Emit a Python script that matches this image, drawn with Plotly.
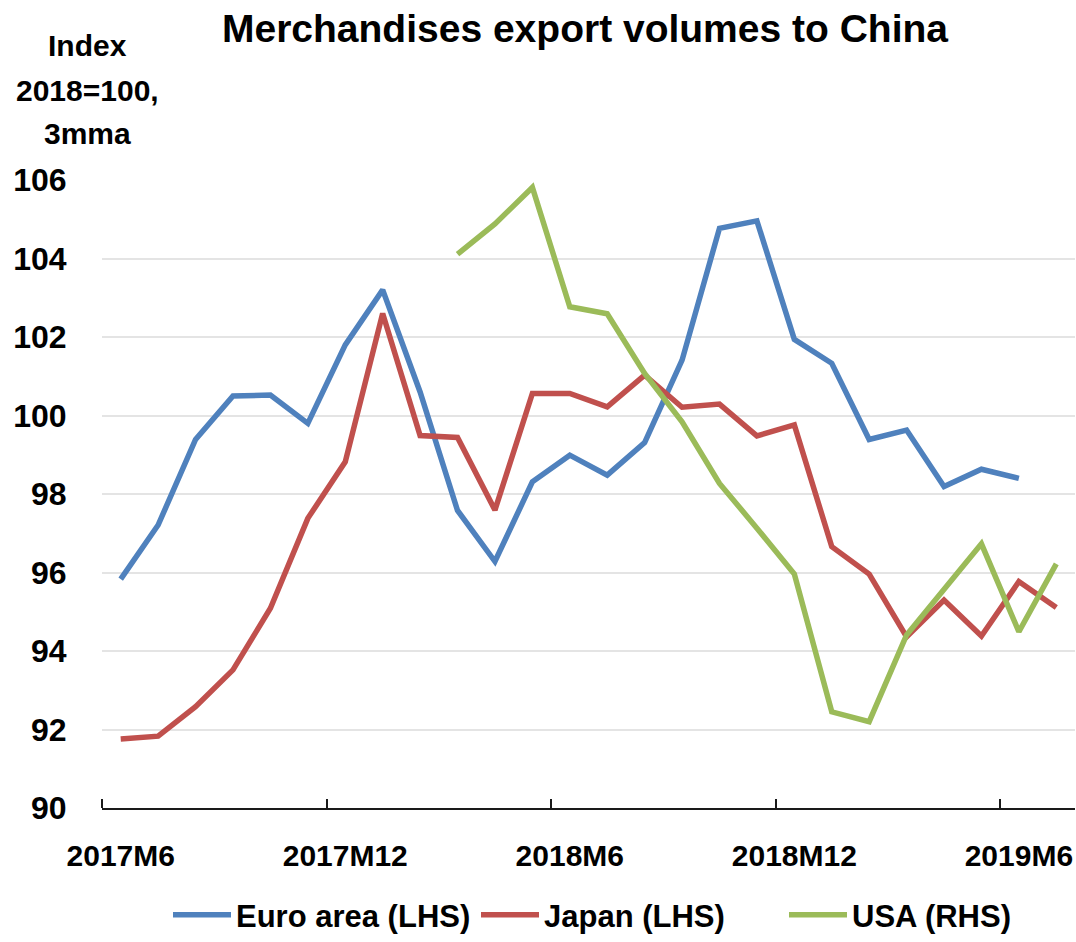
import plotly.graph_objects as go

# Monthly categories, 2017M6 .. 2019M7
months = [
    "2017M6", "2017M7", "2017M8", "2017M9", "2017M10", "2017M11",
    "2017M12", "2018M1", "2018M2", "2018M3", "2018M4", "2018M5",
    "2018M6", "2018M7", "2018M8", "2018M9", "2018M10", "2018M11",
    "2018M12", "2019M1", "2019M2", "2019M3", "2019M4", "2019M5",
    "2019M6", "2019M7",
]
tick_labels = ["2017M6", "2017M12", "2018M6", "2018M12", "2019M6"]

# Index 2018=100, 3-month moving average
euro_area = [
    95.83, 97.21, 99.39, 100.50, 100.52, 99.80, 101.80, 103.20, 100.60, 97.58,
    96.28, 98.31, 98.99, 98.48, 99.31, 101.41, 104.77, 104.96, 101.94, 101.33,
    99.39, 99.63, 98.19, 98.63, 98.40, None,
]
japan = [
    91.76, 91.83, 92.58, 93.52, 95.09, 97.38, 98.82, 102.60, 99.49, 99.44,
    97.59, 100.56, 100.56, 100.22, 101.03, 100.21, 100.29, 99.48, 99.76, 96.66,
    95.96, 94.36, 95.30, 94.38, 95.77, 95.11,
]
usa = [
    None, None, None, None, None, None, None, None, None, 104.11,
    104.88, 105.81, 102.77, 102.59, 101.07, 99.84, 98.27, 97.13, 95.96, 92.45,
    92.20, 94.41, 95.58, 96.73, 94.49, 96.22,
]
axis_note = ["Index", "2018=100,", "3mma"]

x_idx = list(range(len(months)))
label_idx = [months.index(m) for m in tick_labels]
boundary_idx = [i - 0.5 for i in label_idx]

FONT = "Liberation Sans, Arial, sans-serif"
H, T, B = 942, 180, 134
PLOT_H = H - T - B


def paper_y(px):
    """Convert a pixel row (from the top of the page) into paper units."""
    return (H - B - px) / PLOT_H


fig = go.Figure()
series = [
    ("Euro area (LHS)", euro_area, "#4F81BD", "y"),
    ("Japan (LHS)", japan, "#C0504D", "y"),
    ("USA (RHS)", usa, "#9BBB59", "y2"),
]
for name, vals, color, yax in series:
    fig.add_trace(go.Scatter(
        x=x_idx, y=vals, name=name, mode="lines", yaxis=yax,
        line=dict(color=color, width=5.5), connectgaps=False,
    ))

fig.update_layout(
    width=1076, height=H,
    margin=dict(l=102, r=1, t=T, b=B),
    paper_bgcolor="white", plot_bgcolor="white",
    title=dict(
        text="Merchandises export volumes to China",
        font=dict(family=FONT, size=39, color="black", weight="bold"),
        x=585 / 1076, xanchor="center", xref="container",
        y=1 - 28 / H, yanchor="middle",
    ),
    showlegend=True,
    legend=dict(
        orientation="h", xref="container", yref="container",
        x=168 / 1076, xanchor="left", y=1 - 915 / H, yanchor="middle",
        font=dict(family=FONT, size=31, color="black", weight="bold"),
        traceorder="normal", itemwidth=58, entrywidth=235,
    ),
    xaxis=dict(
        range=[-0.5, len(months) - 0.5],
        tickmode="array", tickvals=label_idx, ticktext=tick_labels,
        tickfont=dict(family=FONT, size=30, color="black", weight="bold"),
        ticks="outside", ticklen=20, tickcolor="rgba(0,0,0,0)",
        showgrid=False, zeroline=False,
        showline=True, linecolor="#1a1a1a", linewidth=1.5,
        minor=dict(tickmode="array", tickvals=boundary_idx, ticks="inside",
                   ticklen=9, tickwidth=1.5, tickcolor="#1a1a1a", showgrid=False),
    ),
    yaxis=dict(
        range=[90, 106], dtick=2, tick0=90,
        tickfont=dict(family=FONT, size=32, color="black", weight="bold"),
        ticks="outside", ticklen=28, tickcolor="rgba(0,0,0,0)",
        showgrid=True, gridcolor="#E4E4E4", gridwidth=1.5,
        zeroline=False, showline=False,
    ),
    yaxis2=dict(
        range=[90, 106], overlaying="y", side="right", visible=False,
        showgrid=False, zeroline=False,
    ),
)

# Left-axis unit note, one line per annotation
for text, cy in zip(axis_note, [45, 91, 134]):
    fig.add_annotation(
        text=text, xref="paper", yref="paper",
        x=-(102 - 87) / (1076 - 103), xanchor="center",
        y=paper_y(cy), yanchor="middle", showarrow=False,
        font=dict(family=FONT, size=30, color="black", weight="bold"),
    )

fig.write_html("out.html")
